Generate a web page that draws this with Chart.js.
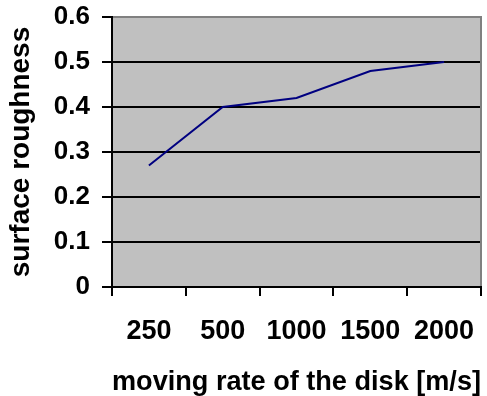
<!DOCTYPE html>
<html>
<head>
<meta charset="utf-8">
<script src="https://cdn.jsdelivr.net/npm/chart.js@4"></script>
<style>
  html, body { margin: 0; padding: 0; background: #fff; }
</style>
</head>
<body>
<canvas id="roughChart" width="487" height="396"></canvas>
<script>
const rates = ["250", "500", "1000", "1500", "2000"];
const roughness = [0.27, 0.40, 0.42, 0.48, 0.50];
const yTicks = [0, 0.1, 0.2, 0.3, 0.4, 0.5, 0.6];

const FONT = "'Liberation Sans', Arial, sans-serif";

// gray plot area + gray top/right frame like the Excel original
const plotFrame = {
    id: "plotFrame",
    beforeDraw(chart) {
        const { ctx, chartArea: a } = chart;
        ctx.save();
        ctx.fillStyle = "#C0C0C0";
        ctx.fillRect(a.left, a.top, a.right - a.left, a.bottom - a.top);
        ctx.restore();
    },
    beforeDatasetsDraw(chart) {
        const { ctx, chartArea: a } = chart;
        ctx.save();
        ctx.strokeStyle = "#808080";
        ctx.lineWidth = 2;
        ctx.beginPath();
        ctx.moveTo(a.left + 1, a.top);
        ctx.lineTo(a.right, a.top);
        ctx.lineTo(a.right, a.bottom - 1);
        ctx.stroke();
        ctx.restore();
    }
};

new Chart(document.getElementById("roughChart"), {
    type: "line",
    data: {
        labels: rates,
        datasets: [{
            label: "surface roughness",
            data: roughness,
            borderColor: "#000080",
            borderWidth: 2,
            pointRadius: 0,
            tension: 0,
            fill: false
        }]
    },
    options: {
        responsive: false,
        animation: false,
        layout: { padding: { top: 17, right: 6, left: 0, bottom: 0 } },
        plugins: { legend: { display: false }, tooltip: { enabled: false } },
        scales: {
            x: {
                offset: true,
                grid: { offset: true, drawOnChartArea: false, color: "#000", lineWidth: 2, tickLength: 9 },
                border: { color: "#000", width: 2 },
                ticks: { color: "#000", font: { family: FONT, size: 27, weight: "bold" }, padding: 19, maxRotation: 0, autoSkip: false },
                title: { display: true, text: "moving rate of the disk [m/s]", color: "#000", font: { family: FONT, size: 28.5, weight: "bold", lineHeight: 1 }, padding: { top: 0, bottom: 0 } },
                afterFit(scale) {
                    scale.height = 109;
                    scale.paddingLeft = 0;
                    scale.paddingRight = 0;
                }
            },
            y: {
                min: 0,
                max: 0.6,
                afterBuildTicks(scale) { scale.ticks = yTicks.map(v => ({ value: v })); },
                grid: { color: "#000", lineWidth: 2, tickLength: 10 },
                border: { color: "#000", width: 2 },
                ticks: { color: "#000", font: { family: FONT, size: 26, weight: "bold" }, padding: 12, callback: v => (v === 0 ? "0" : v.toFixed(1)) },
                title: { display: true, text: "surface roughness", color: "#000", font: { family: FONT, size: 28, weight: "bold", lineHeight: 1 }, padding: { top: 7, bottom: 0 } },
                afterFit(scale) {
                    scale.width = 112;
                    scale.paddingTop = 0;
                    scale.paddingBottom = 0;
                }
            }
        }
    },
    plugins: [plotFrame]
});
</script>
</body>
</html>
